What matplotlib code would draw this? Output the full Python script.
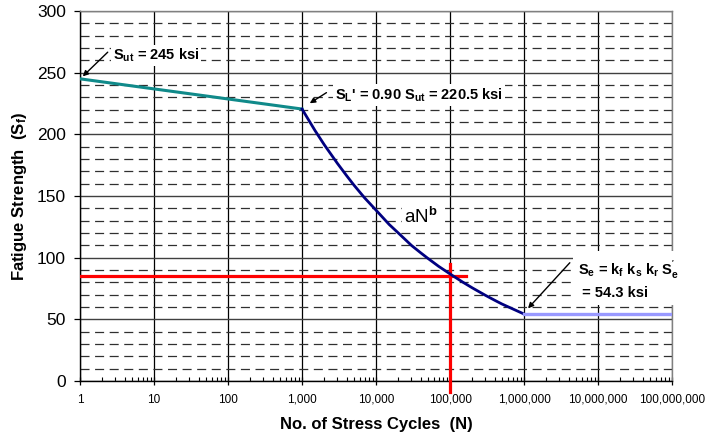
import matplotlib
matplotlib.use('Agg')
import matplotlib.pyplot as plt
from matplotlib.ticker import FuncFormatter, NullFormatter

plt.rcParams['font.family'] = ['Liberation Sans', 'DejaVu Sans']
plt.rcParams['mathtext.fontset'] = 'custom'
plt.rcParams['mathtext.rm'] = 'Liberation Sans'
plt.rcParams['mathtext.it'] = 'Liberation Sans:italic'
plt.rcParams['mathtext.bf'] = 'Liberation Sans:bold'
plt.rcParams['mathtext.default'] = 'regular'
plt.rcParams['lines.scale_dashes'] = False

# data
sut_cycles = [1, 1000]
sut_strength = [245, 220.5]

# aN^b portion between 1,000 and 1,000,000 cycles
curve_cycles = [1e3, 1.5e3, 2e3, 3e3, 4e3, 5e3, 7e3, 1e4, 1.5e4, 2e4, 3e4, 4e4,
                5e4, 7e4, 1e5, 1.5e5, 2e5, 3e5, 4e5, 5e5, 7e5, 1e6]
curve_strength = [220.5, 203.0, 191.5, 176.5, 166.5, 159.0, 148.5, 138.5, 127.0,
                  120.0, 110.0, 104.0, 99.5, 93.0, 86.8, 80.0, 75.5, 69.5, 65.5,
                  62.5, 58.5, 54.3]

endurance_cycles = [1e6, 1e8]
endurance_strength = [54.3, 54.3]

# red read-off lines
red_h_cycles = [1, 1.66e5]
red_h_strength = [85, 85]
red_v_cycles = [1e5, 1e5]
red_v_strength = [-9, 95]

x_ticks = [1, 10, 100, 1e3, 1e4, 1e5, 1e6, 1e7, 1e8]
y_ticks = [0, 50, 100, 150, 200, 250, 300]

fig = plt.figure(figsize=(7.06, 4.36), dpi=100)
ax = fig.add_axes([0.1133, 0.1261, 0.8387, 0.8487])

ax.set_xscale('log')
ax.set_xlim(1, 1e8)
ax.set_ylim(0, 300)

# grid
ax.set_xticks(x_ticks)
ax.set_yticks(y_ticks)
ax.set_yticks([v for v in range(0, 301, 10) if v % 50 != 0], minor=True)
ax.xaxis.set_major_formatter(FuncFormatter(lambda v, p: f'{int(round(v)):,}'))
ax.xaxis.set_minor_formatter(NullFormatter())
ax.grid(True, which='major', axis='x', color='black', linewidth=0.9)
ax.grid(True, which='major', axis='y', color='#404040', linewidth=1.0)
ax.grid(True, which='minor', axis='y', color='#303030', linewidth=0.9,
        linestyle=(0, (6.5, 4.0)))

ax.tick_params(axis='x', which='major', direction='inout', length=6, width=0.9,
               labelsize=8.5, pad=6)
ax.tick_params(axis='x', which='minor', direction='in', length=3, width=0.8)
ax.tick_params(axis='y', which='major', direction='out', length=4, width=0.9,
               labelsize=12.5, pad=6)
ax.tick_params(axis='y', which='minor', length=0)

for side in ['top', 'right']:
    ax.spines[side].set_color('#808080')
    ax.spines[side].set_linewidth(1.0)
for side in ['left', 'bottom']:
    ax.spines[side].set_color('black')
    ax.spines[side].set_linewidth(1.0)

# curves
ax.plot(sut_cycles, sut_strength, color='#108a8a', linewidth=2.2, zorder=4)
ax.plot(curve_cycles, curve_strength, color='#000080', linewidth=2.0, zorder=4)
ax.plot(endurance_cycles, endurance_strength, color='#9999ff', linewidth=2.4, zorder=4)
ax.plot(red_h_cycles, red_h_strength, color='red', linewidth=2.3, zorder=3)
ax.plot(red_v_cycles, red_v_strength, color='red', linewidth=2.3, zorder=3, clip_on=False)

box = dict(facecolor='white', edgecolor='none', pad=1.5)
arrow = dict(arrowstyle='-|>', color='black', linewidth=1.0, mutation_scale=8,
             shrinkA=0, shrinkB=0)

ax.text(2.77, 264, r'S$_{ut}$ = 245 ksi', fontsize=10.5, fontweight='bold',
        va='center', ha='left', bbox=box, zorder=5)
ax.annotate('', xy=(1.09, 247), xytext=(2.37, 266.6), arrowprops=arrow, zorder=6)

ax.text(2767, 231.9, r"S$_{L}$' = 0.90 S$_{ut}$ = 220.5 ksi", fontsize=10.5,
        fontweight='bold', va='center', ha='left', bbox=box, zorder=5)
ax.annotate('', xy=(1271, 225.2), xytext=(2138, 233.8), arrowprops=arrow, zorder=6)

ax.text(2.4e4, 133, r'aN$^{\mathbf{b}}$', fontsize=13.5, va='center', ha='left',
        bbox=box, zorder=5)

ax.text(5.3e6, 82.5,
        "S$_{e}$ = k$_{f}$ k$_{s}$ k$_{r}$ S$^{'}_{e}$\n = 54.3 ksi",
        fontsize=10.5, fontweight='bold', va='center', ha='left',
        linespacing=1.5, bbox=dict(facecolor='white', edgecolor='none', pad=3), zorder=5)
ax.annotate('', xy=(1.13e6, 58.9), xytext=(4.15e6, 95.9), arrowprops=arrow, zorder=6)

ax.set_xlabel('No. of Stress Cycles  (N)', fontsize=12, fontweight='bold', labelpad=8)
ax.set_ylabel('Fatigue Strength  (S$_{f}$)', fontsize=12, fontweight='bold', labelpad=6)

fig.savefig('out.png', dpi=100, facecolor='white')
